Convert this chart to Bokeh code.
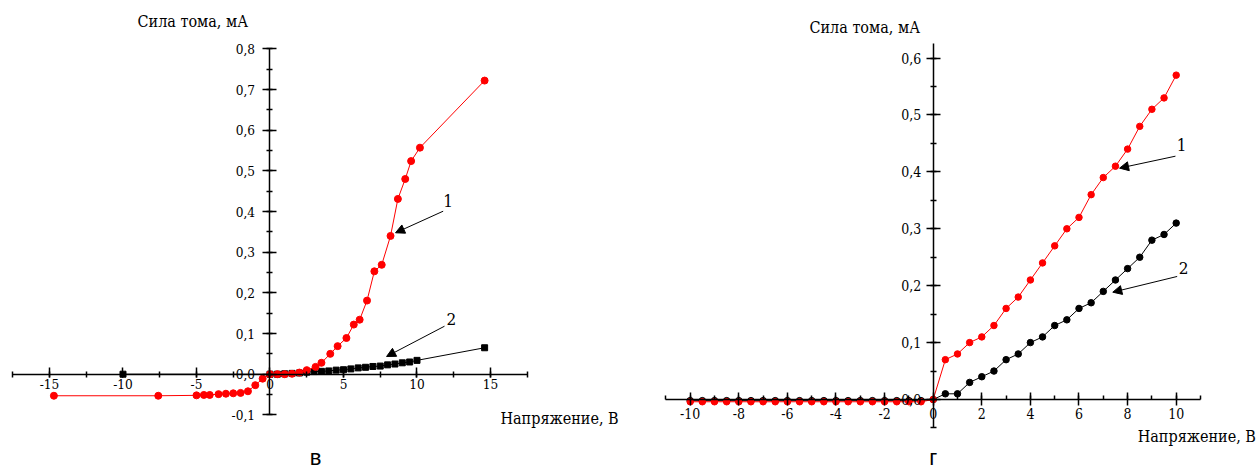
from bokeh.plotting import figure
from bokeh.layouts import row
from bokeh.models import (Range1d, LinearAxis, SingleIntervalTicker, CustomJSTickFormatter,
                          Label, Arrow, NormalHead)
from bokeh.embed import file_html
from bokeh.resources import INLINE

# ---------------- data: panel "в" ----------------
left_v1 = [-14.7, -7.6, -5.0, -4.5, -4.1, -3.5, -3.0, -2.5, -2.0, -1.5,
           -1.0, -0.5, 0.0, 0.5, 1.0, 1.5, 2.0, 2.5, 3.1, 3.5,
           4.1, 4.6, 5.2, 5.7, 6.1, 6.6, 7.1, 7.6, 8.2, 8.7,
           9.2, 9.6, 10.2, 14.6]
left_i1 = [-0.053, -0.053, -0.052, -0.051, -0.051, -0.049, -0.048, -0.047, -0.046, -0.042,
           -0.027, -0.011, 0.0, 0.0, 0.0, 0.001, 0.004, 0.010, 0.018, 0.028,
           0.050, 0.069, 0.089, 0.122, 0.134, 0.181, 0.253, 0.269, 0.340, 0.431,
           0.480, 0.524, 0.557, 0.722]
left_v2 = [-10.0, 0.0, 0.5, 1.0, 1.5, 2.0, 2.5, 3.0, 3.5, 4.0, 4.5, 5.0, 5.5, 6.0,
           6.5, 7.0, 7.5, 8.0, 8.5, 9.0, 9.5, 10.0, 14.6]
left_i2 = [0.0, 0.0, 0.0, 0.001, 0.002, 0.003, 0.005, 0.0065, 0.007, 0.008, 0.010, 0.011,
           0.013, 0.0155, 0.017, 0.019, 0.020, 0.023, 0.025, 0.028, 0.030, 0.034, 0.065]

# ---------------- data: panel "г" ----------------
right_v = [-10.0, -9.5, -9.0, -8.5, -8.0, -7.5, -7.0, -6.5, -6.0, -5.5,
           -5.0, -4.5, -4.0, -3.5, -3.0, -2.5, -2.0, -1.5, -1.0, -0.5,
           0.0, 0.5, 1.0, 1.5, 2.0, 2.5, 3.0, 3.5, 4.0, 4.5,
           5.0, 5.5, 6.0, 6.5, 7.0, 7.5, 8.0, 8.5, 9.0, 9.5, 10.0]
right_i1 = [-0.004] * 20 + [0.0, 0.07, 0.08, 0.10, 0.11, 0.13, 0.16, 0.18, 0.21, 0.24,
                            0.27, 0.30, 0.32, 0.36, 0.39, 0.41, 0.44, 0.48, 0.51, 0.53, 0.57]
right_i2 = [-0.002] * 20 + [0.0, 0.01, 0.01, 0.03, 0.04, 0.05, 0.07, 0.08, 0.10, 0.11,
                            0.13, 0.14, 0.16, 0.17, 0.19, 0.21, 0.23, 0.25, 0.28, 0.29, 0.31]

y_title = "Сила тома, мА"
x_title = "Напряжение, В"
panel_names = ["в", "г"]
curve_labels = ["1", "2"]

SERIF = "DejaVu Serif Condensed"
SANS = "Liberation Sans"

yfmt = CustomJSTickFormatter(code="""
    if (Math.abs(tick) < 1e-9) { return '0,0'; }
    return tick.toFixed(1).replace('.', ',');
""")
xfmt = CustomJSTickFormatter(code="""
    if (Math.abs(tick) < 1e-9) { return '0'; }
    return tick.toFixed(0);
""")


def base_fig(w, h, xr, yr):
    p = figure(width=w, height=h, x_range=Range1d(*xr), y_range=Range1d(*yr),
               x_axis_type=None, y_axis_type=None, output_backend="svg",
               toolbar_location=None, min_border=0, outline_line_color=None,
               background_fill_color="white", border_fill_color="white")
    return p


def add_axes(p, xb, xint, xticks, yb, yint, yticks, fsize, xstand, ystand, font):
    xa = LinearAxis(fixed_location=0, bounds=xb,
                    ticker=SingleIntervalTicker(interval=xint, num_minor_ticks=2),
                    formatter=xfmt)
    xa.axis_line_color = "black"
    xa.axis_line_width = 1.5
    xa.major_tick_line_color = "black"
    xa.major_tick_line_width = 1.5
    xa.minor_tick_line_color = "black"
    xa.minor_tick_line_width = 1.5
    xa.major_tick_in, xa.major_tick_out, xa.minor_tick_in, xa.minor_tick_out = xticks
    xa.major_label_text_font = font
    xa.major_label_text_font_size = fsize
    xa.major_label_text_color = "black"
    xa.major_label_standoff = xstand
    p.add_layout(xa, "below")

    ya = LinearAxis(fixed_location=0, bounds=yb,
                    ticker=SingleIntervalTicker(interval=yint, num_minor_ticks=2),
                    formatter=yfmt)
    ya.axis_line_color = "black"
    ya.axis_line_width = 1.5
    ya.major_tick_line_color = "black"
    ya.major_tick_line_width = 1.5
    ya.minor_tick_line_color = "black"
    ya.minor_tick_line_width = 1.5
    ya.major_tick_in, ya.major_tick_out, ya.minor_tick_in, ya.minor_tick_out = yticks
    ya.major_label_text_font = font
    ya.major_label_text_font_size = fsize
    ya.major_label_text_color = "black"
    ya.major_label_standoff = ystand
    ya.major_label_orientation = "horizontal"
    p.add_layout(ya, "left")


def txt(p, x, y, text, size="16px", font=SERIF, align="left", base="middle"):
    p.add_layout(Label(x=x, y=y, text=text, text_font=font, text_font_size=size,
                       text_color="black", text_align=align, text_baseline=base))


def arrow(p, x0, y0, x1, y1):
    p.add_layout(Arrow(end=NormalHead(size=9, fill_color="black", line_color="black", line_width=1),
                       x_start=x0, y_start=y0, x_end=x1, y_end=y1,
                       line_color="black", line_width=1))


H = 470

# ---------------- left panel ----------------
p1 = base_fig(628, H, (-18.333, 24.388), (-0.2368, 0.9189))
add_axes(p1, (-17.51, 17.51), 5, (7, 3, 3, 3), (-0.1001, 0.8001), 0.1, (7, 7, 3, 3),
         "13.5px", 2, 8, SERIF)
p1.line(left_v2, left_i2, line_color="black", line_width=1)
p1.scatter(left_v2, left_i2, marker="square", size=6, color="black")
p1.line(left_v1, left_i1, line_color="red", line_width=1)
p1.scatter(left_v1, left_i1, marker="circle", size=7, color="red")
txt(p1, -9.01, 0.867, y_title)
txt(p1, 15.68, -0.1097, x_title)
txt(p1, 3.10, -0.2366, panel_names[0], size="22px", font=SANS, align="center", base="bottom")
arrow(p1, 11.78, 0.4008, 8.54, 0.3477)
txt(p1, 12.12, 0.427, curve_labels[0], size="17px", align="center")
arrow(p1, 11.87, 0.118, 7.93, 0.0435)
txt(p1, 12.33, 0.136, curve_labels[1], size="17px", align="center")

# ---------------- right panel ----------------
p2 = base_fig(630, H, (-12.539, 13.387), (-0.1248, 0.7012))
add_axes(p2, (-11.01, 11.01), 2, (7, 6, 4, 0), (-0.0501, 0.625), 0.1, (7, 7, 3, 3),
         "14px", 3, 5, SERIF)
p2.line(right_v, right_i2, line_color="black", line_width=1)
p2.scatter(right_v, right_i2, marker="circle", size=6.5, color="black")
p2.line(right_v, right_i1, line_color="red", line_width=1)
p2.scatter(right_v, right_i1, marker="circle", size=6.5, color="red")
txt(p2, -5.09, 0.654, y_title)
txt(p2, 13.28, -0.065, x_title, align="right")
txt(p2, 0.0, -0.1247, panel_names[1], size="22px", font=SANS, align="center", base="bottom")
arrow(p2, 9.97, 0.4276, 7.67, 0.4066)
txt(p2, 10.22, 0.4476, curve_labels[0], size="17px", align="center")
arrow(p2, 10.04, 0.2162, 7.39, 0.1886)
txt(p2, 10.31, 0.2308, curve_labels[1], size="17px", align="center")

layout = row(p1, p2)
open("out.html", "w").write(file_html(layout, INLINE))
